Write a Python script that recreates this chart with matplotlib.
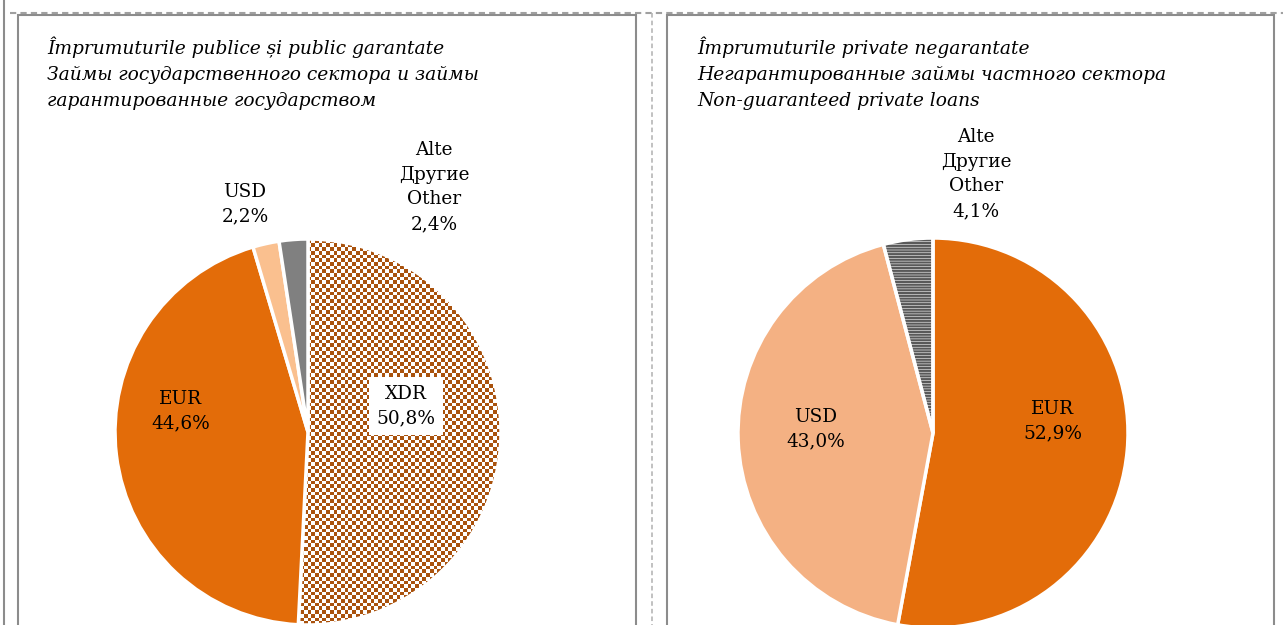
import numpy as np
import matplotlib.pyplot as plt
from matplotlib.colors import ListedColormap
from matplotlib.patches import Wedge, Rectangle

plt.rcParams['font.family'] = ['DejaVu Serif']
plt.rcParams['hatch.linewidth'] = 1.6

# data
left_labels = ['XDR', 'EUR', 'USD', 'Alte\nДругие\nOther']
left_values = [50.8, 44.6, 2.2, 2.4]
left_colors = ['white', '#E36C09', '#FAC08F', '#808080']

right_labels = ['EUR', 'USD', 'Alte\nДругие\nOther']
right_values = [52.9, 43.0, 4.1]
right_colors = ['#E36C09', '#F4B183', 'white']

left_title = ('Împrumuturile publice și public garantate\n'
              'Займы государственного сектора и займы\n'
              'гарантированные государством')
right_title = ('Împrumuturile private negarantate\n'
               'Негарантированные займы частного сектора\n'
               'Non-guaranteed private loans')

W, H = 1283, 625


def Y(y):
    # pixel row (from top) -> data y
    return H - y


def pct(v):
    return f'{v:.1f}'.replace('.', ',') + '%'


fig = plt.figure(figsize=(W / 100, H / 100), dpi=100)
ax = fig.add_axes([0, 0, 1, 1])

# left pie
lw_, _ = ax.pie(left_values, colors=left_colors, startangle=90, counterclock=False,
                center=(308, Y(432)), radius=193,
                wedgeprops=dict(edgecolor='white', linewidth=2.5))
# checkerboard for XDR
xdr = lw_[0]
xdr.set_facecolor('none')
cell = 3.7
n = int(2 * 193 / cell) + 1
ii, jj = np.indices((n, n))
board = (ii + jj) % 2
img = ax.imshow(board, cmap=ListedColormap(['white', '#A9520D']), interpolation='nearest',
                extent=(308 - 193, 308 - 193 + n * cell, Y(432) - 193, Y(432) - 193 + n * cell),
                aspect='auto', zorder=0.5)
img.set_clip_path(xdr)

# right pie
rw_, _ = ax.pie(right_values, colors=right_colors, startangle=90, counterclock=False,
                center=(933, Y(433)), radius=195,
                wedgeprops=dict(edgecolor='white', linewidth=2.5))
oth = rw_[2]
oth.set_facecolor('none')
ax.add_patch(Wedge(oth.center, oth.r, oth.theta1, oth.theta2, facecolor='white',
                   edgecolor='#595959', linewidth=0, hatch='------', zorder=0.5))

ax.set_xlim(0, W)
ax.set_ylim(0, H)
ax.set_aspect('auto')
ax.axis('off')

# labels
fs = 13.3
ls = 1.48
left_pos = [(406, 406), (181, 411), (245, 204), (434, 187)]
for lab, v, (x, y) in zip(left_labels, left_values, left_pos):
    t = ax.text(x, Y(y), lab + '\n' + pct(v), ha='center', va='center', fontsize=fs,
                linespacing=ls, zorder=5)
    if lab == 'XDR':
        t.set_bbox(dict(facecolor='white', edgecolor='none', pad=5.5))

right_pos = [(1053, 421), (816, 429), (976, 174)]
for lab, v, (x, y) in zip(right_labels, right_values, right_pos):
    ax.text(x, Y(y), lab + '\n' + pct(v), ha='center', va='center', fontsize=fs,
            linespacing=ls, zorder=5)

ax.text(47, Y(37), left_title, ha='left', va='top', fontsize=13.4, style='italic',
        linespacing=1.57)
ax.text(697, Y(37), right_title, ha='left', va='top', fontsize=13.4, style='italic',
        linespacing=1.57)

# frames
frame_c = '#8C8C8C'
ax.add_patch(Rectangle((18, -5), 636 - 18, Y(15) + 5, fill=False, edgecolor=frame_c, lw=1.5, zorder=6))
ax.add_patch(Rectangle((667, -5), 1274 - 667, Y(15) + 5, fill=False, edgecolor=frame_c, lw=1.5, zorder=6))
ax.plot([10, 1283], [Y(13), Y(13)], color='#A0A0A0', lw=1.5, ls=(0, (3, 2)), zorder=6)
ax.plot([652, 652], [Y(13), 0], color='#B0B0B0', lw=1.1, ls=(0, (3, 2)), zorder=6)
ax.plot([4, 4], [H, 0], color=frame_c, lw=1.5, zorder=6)

fig.savefig('out.png', dpi=100)
